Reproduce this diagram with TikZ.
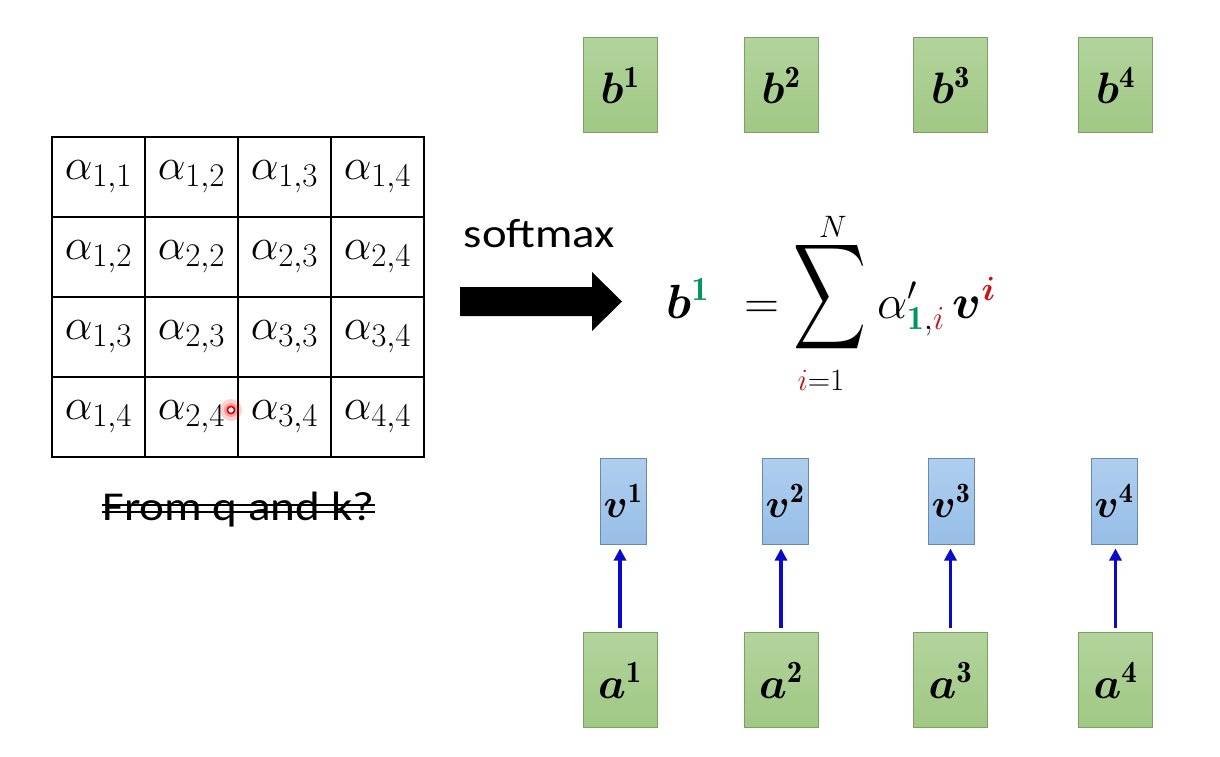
\RequirePackage{fix-cm}
\documentclass[tikz,border=0pt]{standalone}
\usepackage{amsmath}
\usepackage{bm}
\usepackage{graphicx}
\usepackage{fontspec}
\newfontfamily\slidefont{Carlito}
\usetikzlibrary{arrows.meta}
\definecolor{boxgreenA}{RGB}{178,212,156}
\definecolor{boxgreenB}{RGB}{160,200,132}
\definecolor{boxgreenE}{RGB}{122,160,100}
\definecolor{boxblueA}{RGB}{176,206,238}
\definecolor{boxblueB}{RGB}{150,190,232}
\definecolor{boxblueE}{RGB}{105,135,175}
\definecolor{eqgreen}{RGB}{0,150,90}
\definecolor{eqred}{RGB}{200,20,20}
\definecolor{arrowblue}{RGB}{10,10,200}
\newcommand\attn[2]{$\alpha_{\mbox{\fontsize{33}{36}\selectfont$#1{,}#2$}}$}
\tikzset{
  cell/.style={minimum width=93pt, minimum height=80pt, inner sep=0pt,
    font=\fontsize{44}{48}\selectfont},
  gridline/.style={draw=black, line width=2pt},
  greenbox/.style={draw=boxgreenE, line width=1pt, top color=boxgreenA, bottom color=boxgreenB,
    minimum width=74pt, minimum height=95pt, inner sep=0pt, font=\fontsize{44}{48}\selectfont},
  bluebox/.style={draw=boxblueE, line width=1pt, top color=boxblueA, bottom color=boxblueB,
    minimum width=46pt, minimum height=86pt, inner sep=0pt, font=\fontsize{40}{44}\selectfont},
  varrow/.style={draw=arrowblue, line width=3.4pt, -{Triangle[width=12pt,length=12pt]},
    shorten <=4pt, shorten >=4pt},
  slidetext/.style={inner sep=0pt, font=\slidefont\fontsize{41}{46}\selectfont},
  eqpart/.style={inner sep=0pt, font=\fontsize{48}{52}\selectfont},
  eqlimit/.style={inner sep=0pt, font=\fontsize{31}{34}\selectfont}
}
\begin{document}
\begin{tikzpicture}[x=1pt,y=-1pt]
\useasboundingbox[fill=white] (0,0) rectangle (1220,757);
% attention matrix
\node[cell] (c11) at (98.5,177) {\attn11};
\node[cell] (c12) at (191.5,177) {\attn12};
\node[cell] (c13) at (284.5,177) {\attn13};
\node[cell] (c14) at (377.5,177) {\attn14};
\node[cell] (c21) at (98.5,257) {\attn12};
\node[cell] (c22) at (191.5,257) {\attn22};
\node[cell] (c23) at (284.5,257) {\attn23};
\node[cell] (c24) at (377.5,257) {\attn24};
\node[cell] (c31) at (98.5,337) {\attn13};
\node[cell] (c32) at (191.5,337) {\attn23};
\node[cell] (c33) at (284.5,337) {\attn33};
\node[cell] (c34) at (377.5,337) {\attn34};
\node[cell] (c41) at (98.5,417) {\attn14};
\node[cell] (c42) at (191.5,417) {\attn24};
\node[cell] (c43) at (284.5,417) {\attn34};
\node[cell] (c44) at (377.5,417) {\attn44};
\draw[gridline] (c11.north west) rectangle (c44.south east);
\draw[gridline] (c11.north east) -- (c41.south east);
\draw[gridline] (c12.north east) -- (c42.south east);
\draw[gridline] (c13.north east) -- (c43.south east);
\draw[gridline] (c11.south west) -- (c14.south east);
\draw[gridline] (c21.south west) -- (c24.south east);
\draw[gridline] (c31.south west) -- (c34.south east);
% laser pointer dot
\fill[red, opacity=0.18] (231,410) circle (11);
\fill[red, opacity=0.25] (231,410) circle (7);
\draw[red!85!black, line width=1.6pt, fill=white] (231,410) circle (3.6);
% struck-out caption
\node[slidetext, anchor=base] (from) at (238.5,520) {\scalebox{1.15}[1]{From q and k?}};
\draw[line width=1.6pt] ([yshift=15pt]from.base west) -- ([yshift=15pt]from.base east);
\draw[line width=1.6pt] ([yshift=8pt]from.base west) -- ([yshift=8pt]from.base east);
% softmax arrow
\node[slidetext, anchor=base] (softmax) at (539.5,247) {\scalebox{1.14}[1]{softmax}};
\fill[black] (460,287) -- (592,287) -- (592,272) -- (622,301.5) -- (592,331) -- (592,316) -- (460,316) -- cycle;
% formula
\node[eqpart, anchor=base east] (lhs) at (779,318) {$\bm{b}^{\color{eqgreen}\mathbf{1}}\hspace{22pt}=$};
\node[inner sep=0pt] (sigma) at (830.5,297) {\resizebox*{73pt}{118pt}{$\displaystyle\sum$}};
\node[eqlimit, anchor=base] (upper) at (833,237) {$N$};
\node[eqlimit, anchor=base] (lower) at (821,390) {${\color{eqred}i}{=}1$};
\node[eqpart, anchor=base west] (rhs) at (877,318) {$\alpha'_{{\color{eqgreen}\mathbf{1}},{\color{eqred}i}}\,\bm{v}^{\color{eqred}\bm{i}}$};
% output boxes
\node[greenbox] (b1) at (620,85.5) {$\bm{b}^{\mathbf{1}}$};
\node[greenbox] (b2) at (781,85.5) {$\bm{b}^{\mathbf{2}}$};
\node[greenbox] (b3) at (950.5,85.5) {$\bm{b}^{\mathbf{3}}$};
\node[greenbox] (b4) at (1115.5,85.5) {$\bm{b}^{\mathbf{4}}$};
% value boxes
\node[bluebox] (v1) at (623,501) {$\bm{v}^{\mathbf{1}}$};
\node[bluebox] (v2) at (785,501) {$\bm{v}^{\mathbf{2}}$};
\node[bluebox] (v3) at (951,501) {$\bm{v}^{\mathbf{3}}$};
\node[bluebox] (v4) at (1114,501) {$\bm{v}^{\mathbf{4}}$};
% input boxes
\node[greenbox] (a1) at (620,680) {$\bm{a}^{\mathbf{1}}$};
\node[greenbox] (a2) at (781,680) {$\bm{a}^{\mathbf{2}}$};
\node[greenbox] (a3) at (950.5,680) {$\bm{a}^{\mathbf{3}}$};
\node[greenbox] (a4) at (1115.5,680) {$\bm{a}^{\mathbf{4}}$};
% arrows
\foreach \i in {1,2,3,4}{
  \draw[varrow] (a\i.north) -- (a\i.north |- v\i.south);
}
\end{tikzpicture}
\end{document}
